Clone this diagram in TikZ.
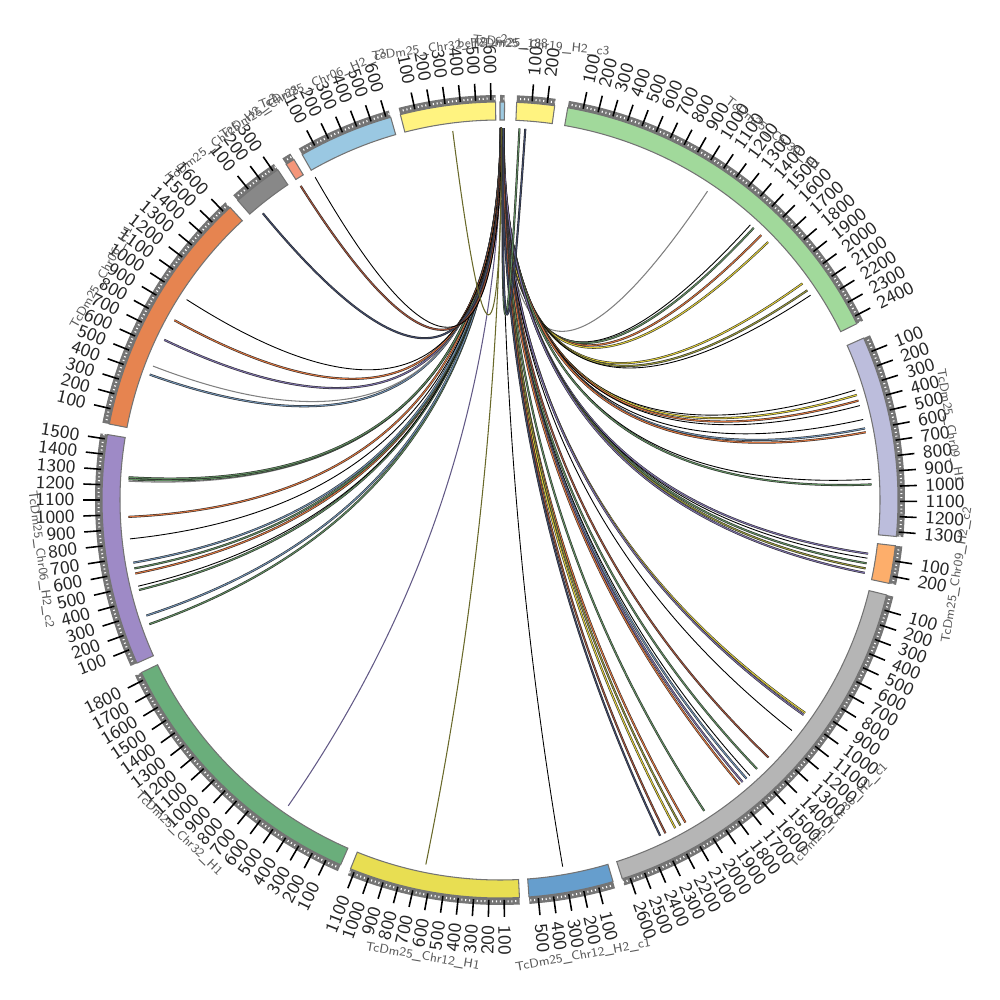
\documentclass[tikz,border=0pt]{standalone}
\usetikzlibrary{calc}
\definecolor{cA}{RGB}{158,202,225}
\definecolor{cB}{RGB}{255,243,128}
\definecolor{cC}{RGB}{161,217,155}
\definecolor{cD}{RGB}{188,189,220}
\definecolor{cE}{RGB}{253,174,107}
\definecolor{cF}{RGB}{181,181,181}
\definecolor{cG}{RGB}{102,158,205}
\definecolor{cH}{RGB}{232,222,82}
\definecolor{cI}{RGB}{106,174,123}
\definecolor{cJ}{RGB}{158,138,198}
\definecolor{cK}{RGB}{230,132,80}
\definecolor{cL}{RGB}{136,136,136}
\definecolor{cM}{RGB}{244,150,122}
\definecolor{cN}{RGB}{154,200,226}
\definecolor{kgreen}{RGB}{96,140,96}
\definecolor{korange}{RGB}{217,116,63}
\definecolor{kblue}{RGB}{111,143,176}
\definecolor{kyellow}{RGB}{222,205,60}
\definecolor{kolive}{RGB}{150,150,60}
\definecolor{kpurple}{RGB}{123,111,168}
\definecolor{kbrown}{RGB}{160,82,58}
\definecolor{knavy}{RGB}{64,74,106}
\tikzset{
  ideo/.style={draw=black!55, line width=0.3pt},
  band/.style={fill=black!54},
  tck/.style={line width=0.45pt},
  ticklab/.style={font=\fontsize{5.2}{6}\selectfont\sffamily, text=black!85, inner sep=0pt},
  chrlab/.style={font=\fontsize{3.6}{4}\selectfont\sffamily, text=black!65, inner sep=0pt},
  rib/.style={line width=0.15pt, draw=black!85, double=#1, double distance=0.3pt},
  rgreen/.style={rib=kgreen}, rorange/.style={rib=korange}, rblue/.style={rib=kblue},
  ryellow/.style={rib=kyellow}, rolive/.style={rib=kolive}, rpurple/.style={rib=kpurple},
  rbrown/.style={rib=kbrown}, rnavy/.style={rib=knavy},
  lgray/.style={line width=0.3pt, draw=black!50},
  lblack/.style={line width=0.25pt, draw=black},
  lolive/.style={line width=0.3pt, draw=kolive!70!black},
  lpurple/.style={line width=0.3pt, draw=kpurple!80!black},
}
\begin{document}
\begin{tikzpicture}
  \useasboundingbox (-5,-5) rectangle (5,5);
  \coordinate (o) at (0,0);
  % ideogram, ticks and names
  \foreach \st/\len/\col/\nm [count=\i] in {
      0/30/cA/{beTcDm25\_188},
      2.4/250/cB/{TcDm25\_Chr19\_H2\_c3},
      9.8/2450/cC/{TcDm25\_Chr30\_H1},
      66.0/1330/cD/{TcDm25\_Chr09\_H1},
      96.6/250/cE/{TcDm25\_Chr09\_H2\_c2},
      103.8/2650/cF/{TcDm25\_Chr30\_H2\_c1},
      163.5/560/cG/{TcDm25\_Chr12\_H2\_c1},
      177.2/1130/cH/{TcDm25\_Chr12\_H1},
      203.6/1850/cI/{TcDm25\_Chr32\_H1},
      245.8/1530/cJ/{TcDm25\_Chr06\_H2\_c2},
      281.0/1650/cK/{TcDm25\_Chr06\_H1},
      318.8/330/cL/{TcDm25\_Chr25\_H2\_c2},
      327.5/60/cM/{TcDm25\_Chr28},
      330.2/630/cN/{TcDm25\_Chr06\_H2\_c3},
      345.5/630/cB/{TcDm25\_Chr32\_H2\_c2}} {
    \pgfmathsetmacro\pa{90-\st}
    \pgfmathsetmacro\pb{90-\st-\len*0.022}
    \fill[band] (\pa:3.98) arc[start angle=\pa, end angle=\pb, radius=3.98]
      -- (\pb:4.05) arc[start angle=\pb, end angle=\pa, radius=4.05] -- cycle;
    \draw[ideo, fill=\col] (\pa:3.8) arc[start angle=\pa, end angle=\pb, radius=3.8]
      -- (\pb:3.98) arc[start angle=\pb, end angle=\pa, radius=3.98] -- cycle;
    \pgfmathtruncatemacro\nmin{\len/25}
    \foreach \kk in {1,...,\nmin} {
      \pgfmathsetmacro\ang{90-\st-\kk*0.55}
      \draw[white, line width=0.3pt] (\ang:4.005) -- (\ang:4.025);
    }
    \pgfmathtruncatemacro\nt{\len/100}
    \ifnum\nt>0
      \foreach \kk in {1,...,\nt} {
        \pgfmathsetmacro\ang{90-\st-\kk*2.2}
        \pgfmathtruncatemacro\val{\kk*100}
        \pgfmathsetmacro\cp{cos(\ang)}
        \draw[tck] (\ang:4.0) -- (\ang:4.17);
        \ifdim\cp pt<0pt
          \pgfmathsetmacro\rr{\ang+180}
          \node[ticklab, rotate=\rr, anchor=east] (tl\i-\kk) at (\ang:4.25) {\val};
        \else
          \node[ticklab, rotate=\ang, anchor=west] (tl\i-\kk) at (\ang:4.25) {\val};
        \fi
      }
    \fi
    \pgfmathsetmacro\pmid{90-\st-\len*0.011}
    \pgfmathsetmacro\sp{sin(\pmid)}
    \ifdim\sp pt<0pt
      \pgfmathsetmacro\rr{\pmid+90}
      \node[chrlab, rotate=\rr] (chr\i) at (\pmid:4.63) {\nm};
    \else
      \pgfmathsetmacro\rr{\pmid-90}
      \node[chrlab, rotate=\rr] (chr\i) at (\pmid:4.56) {\nm};
    \fi
  }
  % links
  \foreach \a/\b/\sty [count=\i] in {
      0.12/33.9/lgray, 0.15/42.3/lblack, 0.18/43.0/rgreen, 0.20/44.6/rorange,
      0.22/46.1/ryellow, 0.25/54.4/ryellow, 0.27/55.7/rolive, 0.29/56.6/lblack,
      0.31/72.8/lblack, 0.33/73.6/ryellow, 0.35/74.5/rorange, 0.37/75.3/lblack,
      0.39/77.5/lblack, 0.41/78.9/rblue, 0.43/79.5/rorange, 0.45/86.8/lblack,
      0.47/87.6/rgreen, 0.49/98.3/rpurple, 0.51/99.0/lblack, 0.53/99.8/rgreen,
      0.55/100.6/rolive, 0.57/101.3/rpurple,
      0.40/124.9/ryellow, 0.42/125.3/rpurple, 0.38/128.3/lblack, 0.44/133.8/rbrown,
      0.36/136.3/rgreen, 0.46/137.8/lblack, 0.34/138.5/rblue, 0.48/139.3/rpurple,
      0.32/139.9/rorange, 0.50/146.7/rgreen, 0.30/150.1/rorange, 0.52/151.0/rolive,
      0.28/151.9/ryellow, 0.54/153.6/rbrown, 0.26/154.5/rnavy,
      0.35/170.3/lblack, 0.30/191.5/lolive, 0.25/214.7/lpurple,
      0.20/250.5/rgreen, 0.22/251.9/rblue, 0.18/256.0/rgreen, 0.24/256.6/lblack,
      0.16/258.6/rorange, 0.26/259.4/rgreen, 0.14/260.3/rblue, 0.28/264.0/lblack,
      0.12/267.4/rorange, 0.10/272.9/lgray, 0.11/273.2/rgreen, 0.13/273.5/rgreen,
      0.11/289.7/rblue, 0.13/291.1/lgray, 0.15/295.5/rpurple, 0.17/298.9/rorange,
      0.19/302.6/lblack, 0.21/320.4/rnavy, 0.23/327.6/rbrown, 0.25/330.2/lblack,
      0.27/352.7/lolive, 3.0/0.45/rgreen, 3.9/0.52/rnavy} {
    \coordinate (s\i) at (90-\a:3.72);
    \coordinate (t\i) at (90-\b:3.72);
    \draw[\sty] (s\i) .. controls ($(s\i)!0.667!(o)$) and ($(t\i)!0.667!(o)$) .. (t\i);
  }
\end{tikzpicture}
\end{document}
